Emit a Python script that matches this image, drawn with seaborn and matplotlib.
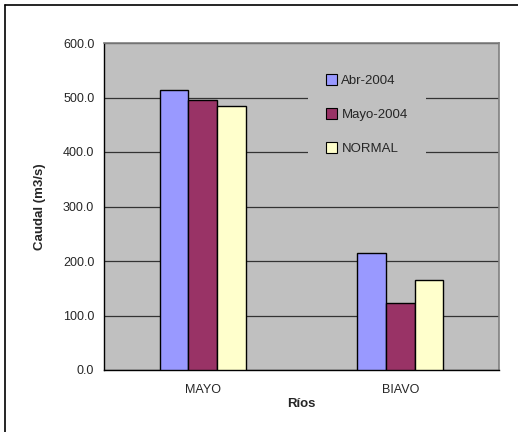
import pandas as pd
import matplotlib.pyplot as plt
import seaborn as sns
from matplotlib.patches import Patch
from matplotlib.lines import Line2D

rios = ["MAYO", "BIAVO"]
series = ["Abr-2004", "Mayo-2004", "NORMAL"]
abr_2004 = [513.0, 215.0]
mayo_2004 = [495.0, 123.0]
normal = [484.0, 165.0]
colors = ["#9999FF", "#993366", "#FFFFCC"]
yticks = [0, 100, 200, 300, 400, 500, 600]

df = pd.DataFrame({
    "Ríos": rios * 3,
    "Serie": [s for s in series for _ in rios],
    "Caudal": abr_2004 + mayo_2004 + normal,
})

sns.set_style("white")
plt.rcParams["font.family"] = ["Liberation Sans", "DejaVu Sans"]

W, H = 518, 432
fig = plt.figure(figsize=(W / 100, H / 100), dpi=100)
ax = fig.add_axes([104 / W, 1 - 370 / H, 395 / W, 327 / H])
ax.set_facecolor("#C0C0C0")

sns.barplot(data=df, x="Ríos", y="Caudal", hue="Serie", palette=colors,
            width=0.435, gap=0, edgecolor="black", linewidth=1,
            saturation=1, legend=False, ax=ax, zorder=3)

ax.set_ylim(0, 600)
ax.set_xlim(-0.5, 1.5)
ax.set_yticks(yticks)
ax.set_yticklabels([f"{v:.1f}" for v in yticks], fontsize=9)
ax.yaxis.grid(True, color="#333333", linewidth=0.9, zorder=0)
ax.set_axisbelow(True)

ax.set_xticks([0, 1])
ax.set_xticklabels(rios, fontsize=9)
ax.tick_params(axis="x", which="major", length=0, pad=10)
ax.set_xticks([-0.5, 0.5, 1.5], minor=True)
ax.tick_params(axis="x", which="minor", length=4, direction="out", color="black")
ax.tick_params(axis="y", length=4, direction="out", color="black", pad=3)

for side in ["top", "right"]:
    ax.spines[side].set_color("#808080")
    ax.spines[side].set_linewidth(1.2)
for side in ["left", "bottom"]:
    ax.spines[side].set_color("black")
    ax.spines[side].set_linewidth(1)

ax.set_ylabel("Caudal (m3/s)", fontsize=9.5, fontweight="bold")
ax.yaxis.set_label_coords((46 - 104) / 395, 0.5)
ax.set_xlabel("Ríos", fontsize=9.5, fontweight="bold")
ax.xaxis.set_label_coords(0.5, -(398 - 370) / 327)

handles = [Patch(facecolor=c, edgecolor="black", linewidth=0.8) for c in colors]
leg = ax.legend(handles, series, loc="upper left",
                bbox_to_anchor=((308 - 104) / 395, (370 - 56) / 327),
                fontsize=9.5, frameon=True, facecolor="#C0C0C0", edgecolor="none",
                framealpha=1, fancybox=False, labelspacing=1.6,
                handlelength=0.83, handleheight=0.83, handletextpad=0.3,
                borderpad=1.4, borderaxespad=0)
leg.set_zorder(5)

# outer chart border: only top and left edges are visible in the crop
fig.lines.append(Line2D([5 / W, 1.0], [1 - 5 / H, 1 - 5 / H],
                        transform=fig.transFigure, color="black", linewidth=1.2))
fig.lines.append(Line2D([5 / W, 5 / W], [0.0, 1 - 5 / H],
                        transform=fig.transFigure, color="black", linewidth=1.2))

fig.savefig("out.png", dpi=100, facecolor="white")
